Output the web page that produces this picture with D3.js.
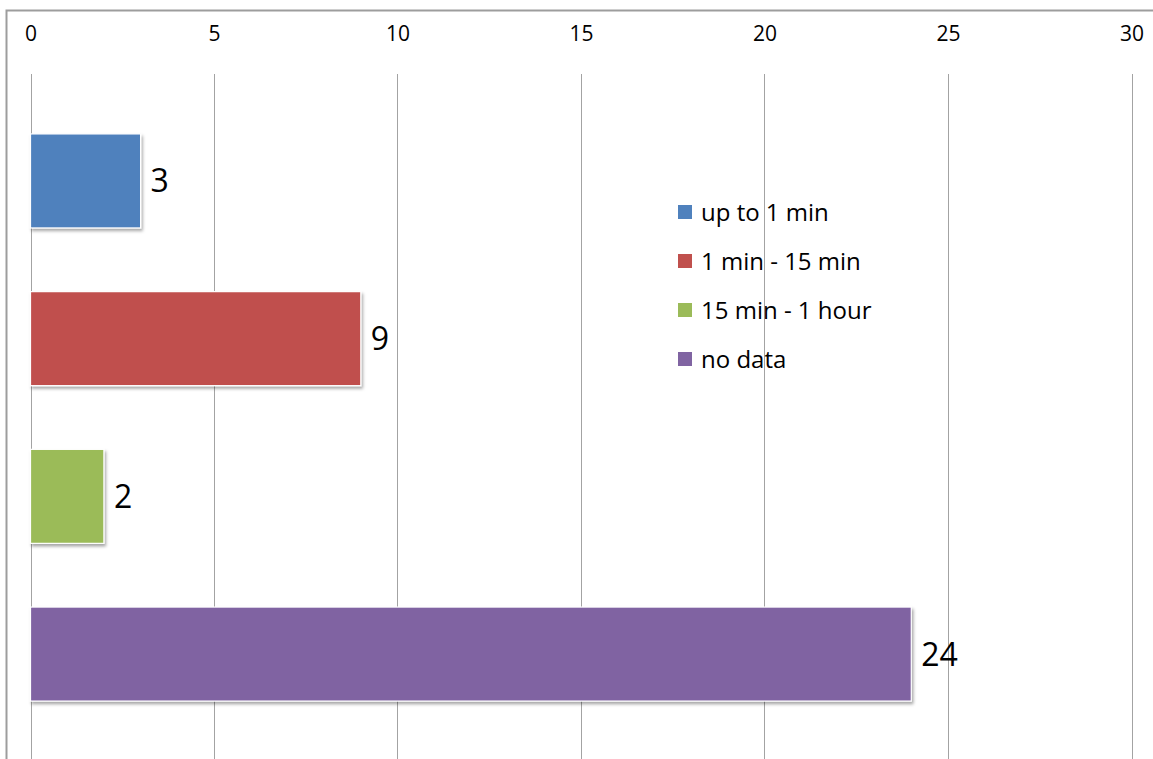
<!DOCTYPE html>
<html>
<head>
<meta charset="utf-8">
<script src="https://cdn.jsdelivr.net/npm/d3@7"></script>
<style>
  html, body { margin: 0; padding: 0; background: #fff; }
  svg { display: block; }
</style>
</head>
<body>
<svg id="chart" width="1153" height="759"></svg>
<script>
// Response time categories and counts
const categories = ["up to 1 min", "1 min - 15 min", "15 min - 1 hour", "no data"];
const values = [3, 9, 2, 24];
const colors = ["#4f81bd", "#c0504d", "#9bbb59", "#8064a2"];
const tickValues = [0, 5, 10, 15, 20, 25, 30];

const svg = d3.select("#chart");
const W = 1153, H = 759;
const font = "'Open Sans', Lato, sans-serif";

// chart frame (clipped at the right and bottom of the page)
svg.append("path")
  .attr("d", `M6.5,${H} V10.5 H${W}`)
  .attr("fill", "none")
  .attr("stroke", "#9d9d9d")
  .attr("stroke-width", 2);

const x = d3.scaleLinear().domain([0, 30]).range([30.5, 1131.5]);
const y = d3.scaleBand().domain(categories).range([74, 761]).paddingInner(0.404).paddingOuter(0.38);

// drop shadow for bars
const defs = svg.append("defs");
const f = defs.append("filter").attr("id", "shadow")
  .attr("x", "-5%").attr("y", "-5%").attr("width", "115%").attr("height", "120%");
f.append("feDropShadow").attr("dx", 1.5).attr("dy", 2.5).attr("stdDeviation", 1.6)
  .attr("flood-color", "#000").attr("flood-opacity", 0.35);

// vertical gridlines
svg.append("g").selectAll("line").data(tickValues).join("line")
  .attr("x1", d => Math.round(x(d)) + 0.5).attr("x2", d => Math.round(x(d)) + 0.5)
  .attr("y1", 74).attr("y2", H)
  .attr("stroke", "#a3a3a3").attr("stroke-width", 1);

// top axis labels
const axis = d3.axisTop(x).tickValues(tickValues).tickSize(0).tickPadding(0);
const gAxis = svg.append("g").attr("transform", "translate(0,41)").call(axis);
gAxis.select(".domain").remove();
gAxis.selectAll("text")
  .attr("font-family", font).attr("font-size", 21).attr("fill", "#000");

// bars
svg.append("g").selectAll("rect").data(values).join("rect")
  .attr("x", x(0))
  .attr("y", (d, i) => y(categories[i]))
  .attr("width", d => x(d) - x(0))
  .attr("height", y.bandwidth())
  .attr("fill", (d, i) => colors[i])
  .attr("stroke", "#fff").attr("stroke-width", 1.2)
  .attr("filter", "url(#shadow)");

// value labels
svg.append("g").selectAll("text").data(values).join("text")
  .attr("x", d => x(d) + 10)
  .attr("y", (d, i) => y(categories[i]) + y.bandwidth() / 2)
  .attr("dy", "0.36em")
  .attr("font-family", font).attr("font-size", 32).attr("fill", "#000")
  .text(d => d);

// legend
const legend = svg.append("g").attr("transform", "translate(678,212)");
const item = legend.selectAll("g").data(categories).join("g")
  .attr("transform", (d, i) => `translate(0,${i * 49})`);
item.append("rect").attr("x", 0).attr("y", -7).attr("width", 14).attr("height", 14)
  .attr("fill", (d, i) => colors[i]);
item.append("text").attr("x", 23).attr("y", 0).attr("dy", "0.36em")
  .attr("font-family", font).attr("font-size", 24).attr("fill", "#000")
  .text(d => d);
</script>
</body>
</html>
